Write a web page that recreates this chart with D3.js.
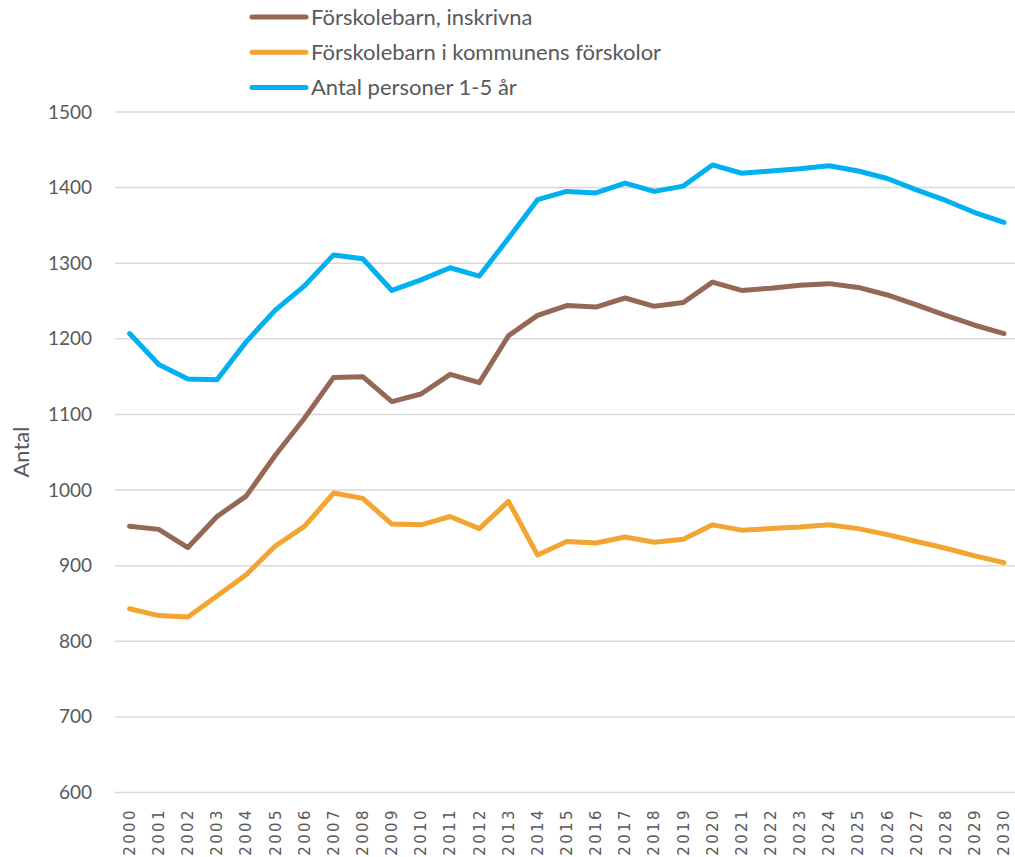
<!DOCTYPE html>
<html>
<head>
<meta charset="utf-8">
<script src="https://cdn.jsdelivr.net/npm/d3@7"></script>
<style>
  body { margin: 0; background: #fff; }
  svg { display: block; }
</style>
</head>
<body>
<svg id="chart"></svg>
<script>
const years = d3.range(2000, 2031).map(String);

const inskrivna = [952, 948, 924, 965, 992, 1046, 1095, 1149, 1150, 1117, 1127, 1153, 1142, 1204, 1231,
  1244, 1242, 1254, 1243, 1248, 1275, 1264, 1267, 1271, 1273, 1268, 1258, 1245, 1231, 1218, 1207];
const kommunens = [843, 834, 832, 860, 888, 926, 952, 996, 989, 955, 954, 965, 949, 985, 914,
  932, 930, 938, 931, 935, 954, 947, 949, 951, 954, 949, 941, 932, 923, 913, 904];
const personer = [1207, 1166, 1147, 1146, 1196, 1238, 1270, 1311, 1306, 1264, 1278, 1294, 1283, 1333, 1384,
  1395, 1393, 1406, 1395, 1402, 1430, 1419, 1422, 1425, 1429, 1422, 1412, 1397, 1383, 1367, 1354];

const seriesNames = ["Förskolebarn, inskrivna", "Förskolebarn i kommunens förskolor", "Antal personer 1-5 år"];
const seriesColors = ["#956755", "#F2A531", "#00B0F0"];
const yTicks = [600, 700, 800, 900, 1000, 1100, 1200, 1300, 1400, 1500];

const width = 1015, height = 857;
const svg = d3.select("#chart").attr("width", width).attr("height", height);

const x = d3.scaleBand().domain(years).range([115, 1018.5]);
const y = d3.scaleLinear().domain([600, 1500]).range([792.5, 112]);

// gridlines
svg.append("g")
  .selectAll("line")
  .data(yTicks)
  .join("line")
  .attr("x1", 115)
  .attr("x2", 1018)
  .attr("y1", d => y(d))
  .attr("y2", d => y(d))
  .attr("stroke", "#d9d9d9")
  .attr("stroke-width", 1.5);

// y axis labels
const yAxis = svg.append("g")
  .attr("transform", "translate(92,0)")
  .call(d3.axisLeft(y).tickValues(yTicks).tickFormat(d3.format("d")).tickSize(0).tickPadding(0));
yAxis.select(".domain").remove();
yAxis.selectAll("text")
  .attr("font-family", "Lato, 'Open Sans', sans-serif")
  .attr("font-size", 19)
  .attr("fill", "#595959");

// x axis labels
svg.append("g")
  .selectAll("text")
  .data(years)
  .join("text")
  .attr("transform", d => `translate(${x(d) + x.bandwidth() / 2},808) rotate(-90)`)
  .attr("text-anchor", "end")
  .attr("dy", "0.35em")
  .attr("font-family", "'DejaVu Sans', sans-serif")
  .attr("font-size", 15)
  .attr("letter-spacing", "2.4px")
  .attr("fill", "#595959")
  .text(d => d);

// y title
svg.append("text")
  .attr("transform", "translate(29,452) rotate(-90)")
  .attr("text-anchor", "middle")
  .attr("font-family", "Lato, 'Open Sans', sans-serif")
  .attr("font-size", 22)
  .attr("fill", "#595959")
  .text("Antal");

// lines
const line = d3.line()
  .x((d, i) => x(years[i]) + x.bandwidth() / 2)
  .y(d => y(d));

[inskrivna, kommunens, personer].forEach((vals, i) => {
  svg.append("path")
    .datum(vals)
    .attr("d", line)
    .attr("fill", "none")
    .attr("stroke", seriesColors[i])
    .attr("stroke-width", 5)
    .attr("stroke-linejoin", "round")
    .attr("stroke-linecap", "round");
});

// legend
const legend = svg.append("g")
  .selectAll("g")
  .data(seriesNames)
  .join("g")
  .attr("transform", (d, i) => `translate(0,${17 + i * 35.3})`);

legend.append("line")
  .attr("x1", 252)
  .attr("x2", 306)
  .attr("stroke", (d, i) => seriesColors[i])
  .attr("stroke-width", 5)
  .attr("stroke-linecap", "round");

legend.append("text")
  .attr("x", 311)
  .attr("dy", "0.35em")
  .attr("font-family", "Lato, 'Open Sans', sans-serif")
  .attr("font-size", 22)
  .attr("fill", "#595959")
  .text(d => d);
</script>
</body>
</html>
